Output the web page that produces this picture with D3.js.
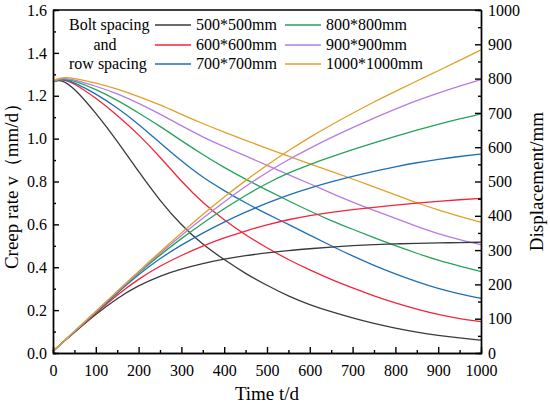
<!DOCTYPE html>
<html>
<head>
<meta charset="utf-8">
<script src="https://cdn.jsdelivr.net/npm/d3@7"></script>
<style>
  body { margin: 0; background: #fff; }
  svg text { font-family: "Liberation Serif", "Times New Roman", serif; fill: #000; }
</style>
</head>
<body>
<div id="chart"></div>
<script>
// chart size and plot box
const width = 550;
const height = 408;
const margin = {left: 53, right: 69, top: 10, bottom: 55};

// time points (days) shared by every series
const times = [0, 20, 50, 100, 150, 200, 250, 300, 350, 400, 450, 500,
               550, 600, 650, 700, 750, 800, 850, 900, 950, 1000];

const labels = ["500*500mm", "600*600mm", "700*700mm",
                "800*800mm", "900*900mm", "1000*1000mm"];
const colors = ["#3a3a3a", "#f5243a", "#1f6fb6", "#25a35a", "#b57ce2", "#e0a02a"];

// creep rate v (mm/d), left axis
const creep500 = [1.265, 1.278, 1.235, 1.12, 0.99, 0.845, 0.71, 0.595, 0.505, 0.435, 0.37, 0.315,
                  0.265, 0.225, 0.192, 0.163, 0.137, 0.115, 0.097, 0.082, 0.07, 0.06];
const creep600 = [1.265, 1.28, 1.258, 1.19, 1.11, 1.02, 0.915, 0.80, 0.70, 0.62, 0.55, 0.49,
                  0.435, 0.387, 0.343, 0.303, 0.266, 0.233, 0.204, 0.179, 0.16, 0.146];
const creep700 = [1.265, 1.282, 1.262, 1.21, 1.145, 1.068, 0.98, 0.895, 0.818, 0.757, 0.70, 0.648,
                  0.60, 0.55, 0.50, 0.452, 0.408, 0.368, 0.332, 0.30, 0.275, 0.255];
const creep800 = [1.265, 1.283, 1.27, 1.23, 1.18, 1.12, 1.058, 0.99, 0.925, 0.865, 0.81, 0.76,
                  0.71, 0.662, 0.617, 0.577, 0.538, 0.50, 0.465, 0.432, 0.405, 0.38];
const creep900 = [1.265, 1.284, 1.276, 1.245, 1.21, 1.165, 1.115, 1.06, 1.007, 0.962, 0.92, 0.875,
                  0.832, 0.79, 0.745, 0.703, 0.665, 0.628, 0.59, 0.555, 0.528, 0.505];
const creep1000 = [1.27, 1.287, 1.282, 1.26, 1.232, 1.197, 1.158, 1.113, 1.07, 1.03, 0.992, 0.955,
                   0.918, 0.882, 0.847, 0.812, 0.775, 0.738, 0.70, 0.667, 0.637, 0.61];

// displacement (mm), right axis
const disp500 = [5, 28, 60, 113, 160, 197, 225, 245, 261, 274, 284, 292,
                 299, 304, 309, 313, 316, 318, 320, 321, 322, 323];
const disp600 = [5, 28, 61, 116, 170, 216, 254, 285, 312, 336, 356, 374,
                 389, 401, 410, 418, 425, 431, 437, 442, 447, 451];
const disp700 = [5, 28, 62, 118, 175, 229, 276, 315, 350, 382, 411, 437,
                 461, 481, 499, 515, 530, 543, 555, 565, 573, 580];
const disp800 = [5, 28, 62, 120, 178, 234, 286, 334, 379, 421, 460, 495,
                 525, 550, 572, 593, 613, 632, 650, 667, 683, 697];
const disp900 = [5, 28, 63, 121, 179, 236, 291, 343, 393, 441, 486, 527,
                 564, 597, 628, 657, 685, 711, 736, 758, 778, 797];
const disp1000 = [5, 28, 63, 121, 180, 238, 295, 350, 404, 455, 503, 548,
                  590, 629, 665, 699, 732, 763, 793, 823, 853, 884];

const creepSeries = [creep500, creep600, creep700, creep800, creep900, creep1000];
const dispSeries = [disp500, disp600, disp700, disp800, disp900, disp1000];

const svg = d3.select("#chart")
  .append("svg")
  .attr("width", width)
  .attr("height", height);

const x = d3.scaleLinear().domain([0, 1000])
  .range([margin.left, width - margin.right]);
const yCreep = d3.scaleLinear().domain([0, 1.6])
  .range([height - margin.bottom, margin.top]);
const yDisp = d3.scaleLinear().domain([0, 1000])
  .range([height - margin.bottom, margin.top]);

const bottom = height - margin.bottom;
const right = width - margin.right;

// lines
const plot = svg.append("g");

const creepLine = d3.line()
  .x((d, i) => x(times[i]))
  .y(d => yCreep(d))
  .curve(d3.curveBasis);
const dispLine = d3.line()
  .x((d, i) => x(times[i]))
  .y(d => yDisp(d))
  .curve(d3.curveBasis);

creepSeries.forEach((s, k) => {
  plot.append("path").datum(s)
    .attr("d", creepLine)
    .attr("fill", "none")
    .attr("stroke", colors[k])
    .attr("stroke-width", 1.3);
});
dispSeries.forEach((s, k) => {
  plot.append("path").datum(s)
    .attr("d", dispLine)
    .attr("fill", "none")
    .attr("stroke", colors[k])
    .attr("stroke-width", 1.3);
});

// axes (ticks point inward)
function styleAxis(g) {
  g.selectAll("path, line").attr("stroke", "#000").attr("stroke-width", 1.4);
  g.selectAll("text").attr("font-size", "16px")
    .style("font-family", "'Liberation Serif', 'Times New Roman', serif");
}

// minor ticks first
svg.append("g")
  .attr("transform", `translate(0,${bottom})`)
  .call(d3.axisBottom(x).tickValues(d3.range(50, 1000, 100)).tickSize(-3).tickFormat(""))
  .call(styleAxis);
svg.append("g")
  .attr("transform", `translate(${margin.left},0)`)
  .call(d3.axisLeft(yCreep).tickValues(d3.range(0.1, 1.6, 0.2)).tickSize(-3).tickFormat(""))
  .call(styleAxis);
svg.append("g")
  .attr("transform", `translate(${right},0)`)
  .call(d3.axisRight(yDisp).tickValues(d3.range(50, 1000, 100)).tickSize(-3).tickFormat(""))
  .call(styleAxis);

svg.append("g")
  .attr("transform", `translate(0,${bottom})`)
  .call(d3.axisBottom(x).ticks(10).tickSize(-6).tickSizeOuter(0).tickPadding(12)
    .tickFormat(d3.format("d")))
  .call(styleAxis);
svg.append("g")
  .attr("transform", `translate(${margin.left},0)`)
  .call(d3.axisLeft(yCreep).tickValues(d3.range(0, 1.61, 0.2)).tickSize(-6).tickSizeOuter(0)
    .tickPadding(6).tickFormat(d3.format(".1f")))
  .call(styleAxis);
svg.append("g")
  .attr("transform", `translate(${right},0)`)
  .call(d3.axisRight(yDisp).ticks(10).tickSize(-6).tickSizeOuter(0).tickPadding(7)
    .tickFormat(d3.format("d")))
  .call(styleAxis);

// top border
svg.append("line")
  .attr("x1", margin.left).attr("x2", right)
  .attr("y1", margin.top).attr("y2", margin.top)
  .attr("stroke", "#000").attr("stroke-width", 1.4);

// axis titles
svg.append("text")
  .attr("x", (margin.left + right) / 2)
  .attr("y", 400)
  .attr("text-anchor", "middle")
  .attr("font-size", "19px")
  .text("Time t/d");

svg.append("text")
  .attr("transform", `translate(18,${(margin.top + bottom) / 2}) rotate(-90)`)
  .attr("text-anchor", "middle")
  .attr("font-size", "19px")
  .text("Creep rate v（mm/d）");

svg.append("text")
  .attr("transform", `translate(543,${(margin.top + bottom) / 2}) rotate(-90)`)
  .attr("text-anchor", "middle")
  .attr("font-size", "19px")
  .text("Displacement/mm");

// legend
const legend = svg.append("g");
const rowY = [25, 45, 64];

legend.append("text").attr("x", 69).attr("y", rowY[0] + 5)
  .attr("font-size", "16px").text("Bolt spacing");
legend.append("text").attr("x", 105).attr("y", rowY[1] + 5)
  .attr("text-anchor", "middle").attr("font-size", "16px").text("and");
legend.append("text").attr("x", 69).attr("y", rowY[2] + 5)
  .attr("font-size", "16px").text("row spacing");

labels.forEach((lab, k) => {
  const col = Math.floor(k / 3);
  const lx = col === 0 ? 155 : 285;
  const ly = rowY[k % 3];
  legend.append("line")
    .attr("x1", lx).attr("x2", lx + 36)
    .attr("y1", ly).attr("y2", ly)
    .attr("stroke", colors[k]).attr("stroke-width", 1.3);
  legend.append("text")
    .attr("x", lx + 41).attr("y", ly + 5)
    .attr("font-size", "16px")
    .text(lab);
});
</script>
</body>
</html>
